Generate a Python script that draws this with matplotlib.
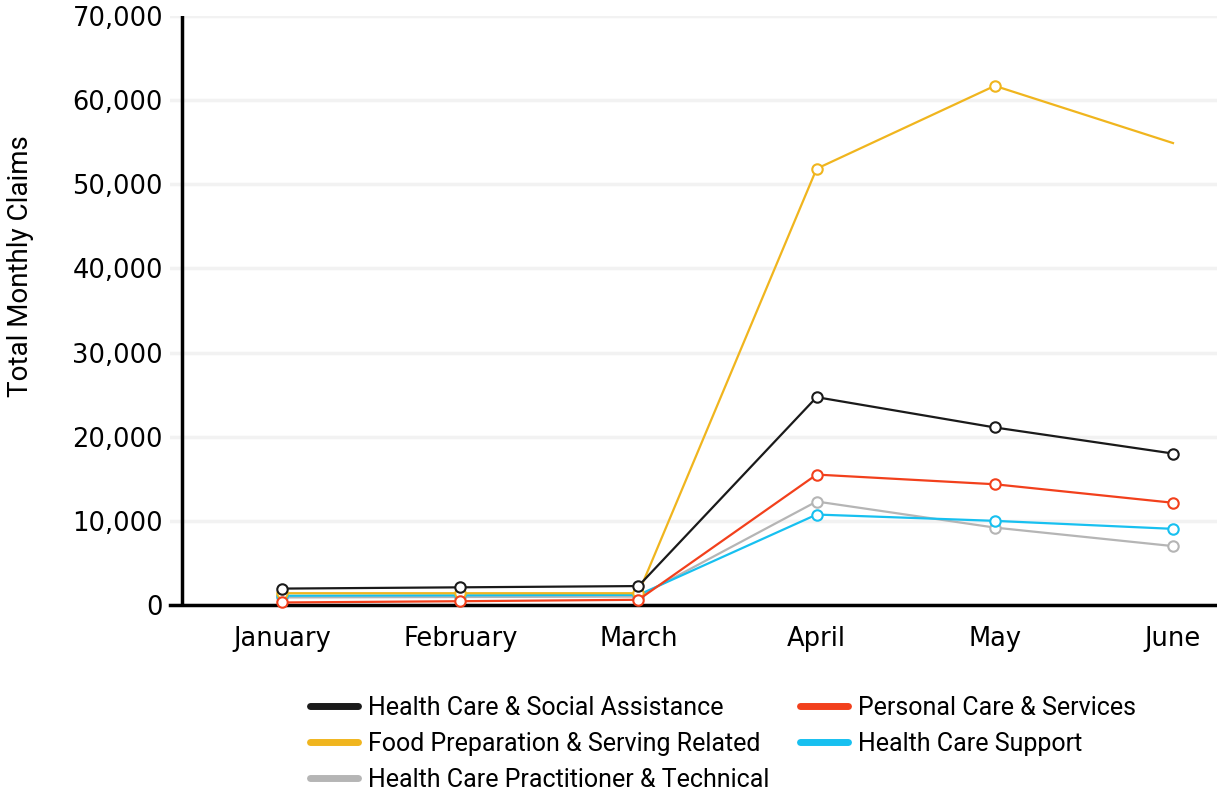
import matplotlib.pyplot as plt
from matplotlib.ticker import FuncFormatter

months = ["January", "February", "March", "April", "May", "June"]

social_assist = [1950, 2100, 2250, 24700, 21100, 18000]
food_prep = [1400, 1400, 1400, 51850, 61700, 54900]
practitioner = [900, 950, 1000, 12300, 9200, 7000]
personal_care = [300, 450, 620, 15500, 14350, 12150]
hc_support = [1100, 1150, 1200, 10750, 10000, 9050]

series = [
    ("Health Care & Social Assistance", social_assist, "#1a1a1a", 6),
    ("Food Preparation & Serving Related", food_prep, "#f0b51e", 4),
    ("Health Care Practitioner & Technical", practitioner, "#b5b5b5", 2),
    ("Personal Care & Services", personal_care, "#f2401c", 5),
    ("Health Care Support", hc_support, "#17c0f0", 3),
]

fig = plt.figure(figsize=(12.17, 7.94), dpi=100)
ax = fig.add_axes([170 / 1217, 189 / 794, 1047 / 1217, 589 / 794])

x = list(range(len(months)))
handles = []
for name, vals, col, z in series:
    # food prep has no marker on the last point
    mev = [0, 1, 2, 3, 4] if name.startswith("Food") else None
    ax.plot(x, vals, color=col, lw=1.6, marker="o", ms=7.5, mfc="white",
            mec=col, mew=1.5, zorder=z, markevery=mev, clip_on=False)
    h, = ax.plot([], [], color=col, lw=5, solid_capstyle="round")
    handles.append((h, name))

ax.set_xlim(-0.629, 5.247)
ax.set_ylim(0, 70000)
ax.set_yticks(range(0, 70001, 10000))
ax.yaxis.set_major_formatter(FuncFormatter(lambda v, p: f"{int(v):,}"))
ax.set_xticks(x)
ax.set_xticklabels(months)
ax.grid(axis="y", color="#f2f2f2", lw=2.5, zorder=0)
ax.set_axisbelow(True)

for s in ["top", "right", "left"]:
    ax.spines[s].set_visible(False)
ax.spines["bottom"].set_linewidth(2.5)
ax.spines["bottom"].set_zorder(1)
ax.axvline(-0.562, color="black", lw=2.5, zorder=1)

ax.tick_params(axis="both", length=0, labelsize=18.5, colors="black")
ax.tick_params(axis="y", pad=5)
ax.tick_params(axis="x", pad=15)
ax.set_ylabel("Total Monthly Claims", fontsize=20, family="Roboto")
ax.yaxis.set_label_coords(-0.130, 0.5756)

fig.legend([h for h, n in handles], [n for h, n in handles], ncol=2,
           loc="upper left", bbox_to_anchor=(310 / 1217, 98 / 794),
           frameon=False, prop={"family": "Roboto", "size": 18},
           handlelength=1.9, handletextpad=0.4, columnspacing=1.25,
           labelspacing=0.48, borderpad=0, borderaxespad=0)

fig.savefig("out.png", dpi=100)
